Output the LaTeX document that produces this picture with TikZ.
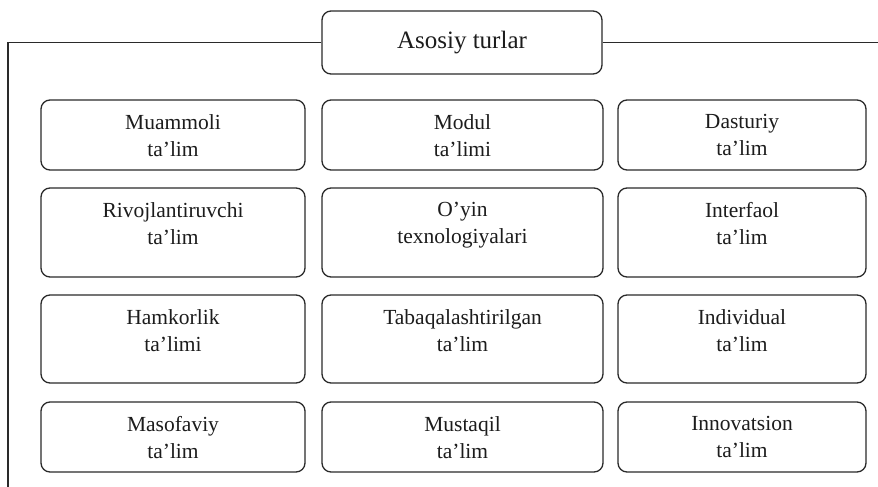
\documentclass[tikz,border=0pt]{standalone}
\usepackage{fontspec}
\setmainfont{Liberation Serif}
\definecolor{ink}{HTML}{2A2A2A}
\definecolor{txt}{HTML}{1C1C1C}
\tikzset{
  tbox/.style={draw=ink, line width=1.3pt, rounded corners=9pt, inner sep=0pt},
  lbl/.style={text=txt, align=center, inner sep=0pt, anchor=north, font=\fontsize{21.5}{27}\selectfont},
  frame/.style={draw=ink, line width=1.3pt},
}
\begin{document}
\begin{tikzpicture}[x=1pt,y=-1pt]
\useasboundingbox[fill=white] (0,0) rectangle (878,487);
% title
\node[tbox, minimum width=280pt, minimum height=63pt, text=txt, font=\fontsize{25}{30}\selectfont] (title) at (462,42.5) {Asosiy turlar};
\coordinate (fl) at (8,42.5);
\coordinate (flb) at (8,487);
\coordinate (fr) at (878,42.5);
\draw[frame] (title.west) -- (fl) -- (flb);
\draw[frame] (title.east) -- (fr);
% boxes: columns L 41-305, M 322-603, R 618-866
% row 1: 100-170
\node[tbox, minimum width=264pt, minimum height=70pt] (b11) at (173,135) {};
\node[tbox, minimum width=281pt, minimum height=70pt] (b12) at (462.5,135) {};
\node[tbox, minimum width=248pt, minimum height=70pt] (b13) at (742,135) {};
% row 2: 188-277
\node[tbox, minimum width=264pt, minimum height=89pt] (b21) at (173,232.5) {};
\node[tbox, minimum width=281pt, minimum height=89pt] (b22) at (462.5,232.5) {};
\node[tbox, minimum width=248pt, minimum height=89pt] (b23) at (742,232.5) {};
% row 3: 295-383
\node[tbox, minimum width=264pt, minimum height=88pt] (b31) at (173,339) {};
\node[tbox, minimum width=281pt, minimum height=88pt] (b32) at (462.5,339) {};
\node[tbox, minimum width=248pt, minimum height=88pt] (b33) at (742,339) {};
% row 4: 402-472
\node[tbox, minimum width=264pt, minimum height=70pt] (b41) at (173,437) {};
\node[tbox, minimum width=281pt, minimum height=70pt] (b42) at (462.5,437) {};
\node[tbox, minimum width=248pt, minimum height=70pt] (b43) at (742,437) {};
% labels
\node[lbl] (t11) at ([yshift=-15pt]b11.north) {Muammoli\\ta’lim};
\node[lbl] (t12) at ([yshift=-15pt]b12.north) {Modul\\ta’limi};
\node[lbl] (t13) at ([yshift=-15pt]b13.north) {Dasturiy\\ta’lim};
\node[lbl] (t21) at ([yshift=-15pt]b21.north) {Rivojlantiruvchi\\ta’lim};
\node[lbl] (t22) at ([yshift=-15pt]b22.north) {O’yin\\texnologiyalari};
\node[lbl] (t23) at ([yshift=-15pt]b23.north) {Interfaol\\ta’lim};
\node[lbl] (t31) at ([yshift=-15pt]b31.north) {Hamkorlik\\ta’limi};
\node[lbl] (t32) at ([yshift=-15pt]b32.north) {Tabaqalashtirilgan\\ta’lim};
\node[lbl] (t33) at ([yshift=-15pt]b33.north) {Individual\\ta’lim};
\node[lbl] (t41) at ([yshift=-15pt]b41.north) {Masofaviy\\ta’lim};
\node[lbl] (t42) at ([yshift=-15pt]b42.north) {Mustaqil\\ta’lim};
\node[lbl] (t43) at ([yshift=-15pt]b43.north) {Innovatsion\\ta’lim};
\end{tikzpicture}
\end{document}
